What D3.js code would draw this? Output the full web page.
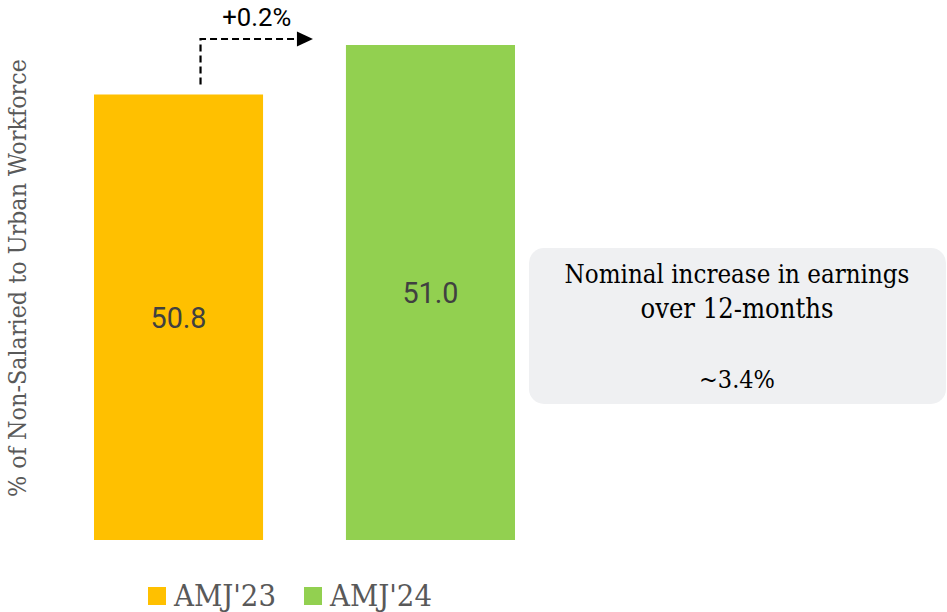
<!DOCTYPE html>
<html><head><meta charset="utf-8">
<script src="https://cdn.jsdelivr.net/npm/d3@7"></script>
<style>body{margin:0;background:#fff}</style>
</head><body>
<svg id="c" width="947" height="612"></svg>
<script>
const categories = ["AMJ'23", "AMJ'24"];
const values = [50.8, 51.0];
const colors = ["#FFC000", "#92D050"];
const yDomain = [49, 51];
const changeLabel = "+0.2%";
const yTitle = "% of Non-Salaried to Urban Workforce";
const boxLines = ["Nominal increase in earnings", "over 12-months", "~3.4%"];

const serif = "'DejaVu Serif Condensed', 'DejaVu Serif', serif";
const svg = d3.select("#c");
const x = d3.scaleBand().domain(categories).range([94, 515]).paddingInner(0.329).paddingOuter(0);
const y = d3.scaleLinear().domain(yDomain).range([540, 45]);

function fit(sel, w) {
  const n = sel.node();
  const fs = parseFloat(sel.attr("font-size"));
  const len = n.getComputedTextLength();
  sel.attr("font-size", (fs * w / len).toFixed(2));
}

svg.selectAll("rect.bar").data(values).enter().append("rect")
  .attr("class", "bar")
  .attr("x", (d, i) => x(categories[i]))
  .attr("y", d => y(d))
  .attr("width", x.bandwidth())
  .attr("height", d => y(yDomain[0]) - y(d))
  .attr("fill", (d, i) => colors[i]);

svg.selectAll("text.val").data(values).enter().append("text")
  .attr("class", "val")
  .attr("x", (d, i) => x(categories[i]) + x.bandwidth() / 2)
  .attr("y", d => (y(d) + y(yDomain[0])) / 2)
  .attr("dy", "0.36em")
  .attr("text-anchor", "middle")
  .attr("font-family", "Roboto")
  .attr("font-size", 29)
  .attr("fill", "#404040")
  .text(d => d.toFixed(1))
  .each(function () { fit(d3.select(this), 56); });

// arrow
const ax = x(categories[0]) + x.bandwidth() / 2 + 22;
const ay0 = y(values[0]) - 10;
const ay1 = y(values[1]) - 6;
const ax1 = x(categories[1]) - 33;
svg.append("path")
  .attr("d", `M${ax},${ay0}V${ay1}H${ax1 - 14}`)
  .attr("fill", "none").attr("stroke", "#000").attr("stroke-width", 2.2)
  .attr("stroke-dasharray", "7,4");
svg.append("path")
  .attr("d", `M${ax1 - 16},${ay1 - 7.5}L${ax1},${ay1}L${ax1 - 16},${ay1 + 7.5}Z`)
  .attr("fill", "#000");
const lab = svg.append("text")
  .attr("x", (ax + ax1) / 2).attr("y", 26)
  .attr("text-anchor", "middle")
  .attr("font-family", "Roboto").attr("font-size", 23).attr("fill", "#000")
  .text(changeLabel);
fit(lab, 69);

// y title
const yt = svg.append("text")
  .attr("transform", "translate(26,278) rotate(-90)")
  .attr("text-anchor", "middle")
  .attr("font-family", serif).attr("font-size", 20).attr("fill", "#595959")
  .text(yTitle);
fit(yt, 438);

// box
svg.append("rect").attr("x", 529).attr("y", 248).attr("width", 417).attr("height", 156)
  .attr("rx", 15).attr("fill", "#EFF0F2");
const by = [283, 318, 388];
const bw = [345, 193, 76];
boxLines.forEach((t, i) => {
  const tx = svg.append("text").attr("x", 737).attr("y", by[i])
    .attr("text-anchor", "middle").attr("font-family", serif)
    .attr("font-size", 22).attr("fill", "#000").text(t);
  fit(tx, bw[i]);
});

// legend
const lx = [148, 304];
categories.forEach((c, i) => {
  svg.append("rect").attr("x", lx[i]).attr("y", 587).attr("width", 18).attr("height", 18).attr("fill", colors[i]);
  const t = svg.append("text").attr("x", lx[i] + 26).attr("y", 606)
    .attr("font-family", serif).attr("font-size", 27).attr("fill", "#595959").text(c);
  fit(t, 102);
});
</script>
</body></html>
